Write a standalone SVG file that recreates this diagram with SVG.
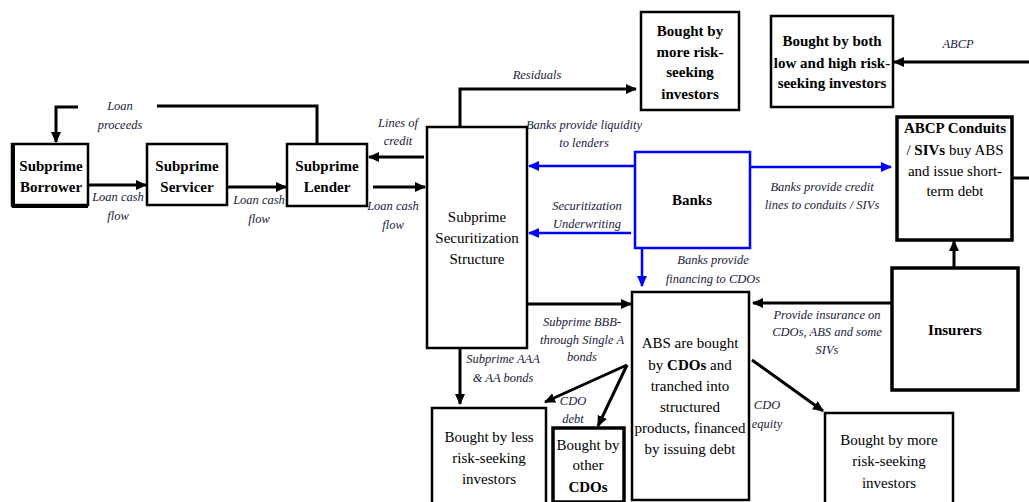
<svg xmlns="http://www.w3.org/2000/svg" width="1029" height="502" viewBox="0 0 1029 502">
<defs>
<marker id="ah" markerUnits="userSpaceOnUse" markerWidth="11" markerHeight="10" refX="10" refY="5" orient="auto">
<path d="M0,0 L11,5 L0,10 z" fill="#000"/>
</marker>
<marker id="ahb" markerUnits="userSpaceOnUse" markerWidth="11" markerHeight="10" refX="10" refY="5" orient="auto">
<path d="M0,0 L11,5 L0,10 z" fill="#0000ff"/>
</marker>
</defs>
<style>
.box{fill:#fff;stroke:#000;stroke-width:2.5}
.tbox{fill:#fff;stroke:#000;stroke-width:3.5}
.bbox{fill:#fff;stroke:#0000ff;stroke-width:2.5}
.t{font-family:"Liberation Serif","Times New Roman",serif;font-size:15px;fill:#000;text-anchor:middle}
.b{font-weight:bold}
.lbl{font-family:"Liberation Serif","Times New Roman",serif;font-size:12.5px;font-style:italic;fill:#1a1a3a;text-anchor:middle}
.c{fill:none;stroke:#000;stroke-width:3;marker-end:url(#ah)}
.cb{fill:none;stroke:#0000ff;stroke-width:2.5;marker-end:url(#ahb)}
.ln{fill:none;stroke:#000;stroke-width:3}
</style>
<rect width="1029" height="502" fill="#fff"/>

<g id="connectors">
<path class="c" d="M317,143 V106 H157 M78,107 H56 V142"/>
<path class="c" d="M89,185 H146"/>
<path class="c" d="M228,187 H286"/>
<path class="c" d="M424,157 H369"/>
<path class="c" d="M373,187 H425"/>
<path class="c" d="M460,127 V89 H636"/>
<path class="c" d="M528,304 H631"/>
<path class="c" d="M460,349 V404"/>
<path class="c" d="M627,365 L545,402"/>
<path class="c" d="M627,365 L598,426"/>
<path class="c" d="M752,360 L823,411"/>
<path class="c" d="M891,303 H753"/>
<path class="c" d="M954,267 V241"/>
<path class="c" d="M1029,62 H894"/>
<path class="ln" d="M1012,178 H1029"/>
<path class="cb" d="M635,166 H529"/>
<path class="cb" d="M631,233 H529"/>
<path class="cb" d="M642,248 V286"/>
<path class="cb" d="M750,167 H891"/>
<text class="lbl" x="120" y="110">Loan</text>
<text class="lbl" x="120" y="129">proceeds</text>
<text class="lbl" x="118" y="201">Loan cash</text>
<text class="lbl" x="118" y="220">flow</text>
<text class="lbl" x="259" y="204">Loan cash</text>
<text class="lbl" x="259" y="223">flow</text>
<text class="lbl" x="398" y="127">Lines of</text>
<text class="lbl" x="398" y="145">credit</text>
<text class="lbl" x="393" y="210">Loan cash</text>
<text class="lbl" x="393" y="229">flow</text>
<text class="lbl" x="537" y="79">Residuals</text>
<text class="lbl" x="584" y="129">Banks provide liquidity</text>
<text class="lbl" x="584" y="147">to lenders</text>
<text class="lbl" x="587" y="210">Securitization</text>
<text class="lbl" x="587" y="228">Underwriting</text>
<text class="lbl" x="713" y="264">Banks provide</text>
<text class="lbl" x="713" y="283">financing to CDOs</text>
<text class="lbl" x="822" y="191">Banks provide credit</text>
<text class="lbl" x="822" y="209">lines to conduits / SIVs</text>
<text class="lbl" x="958" y="48">ABCP</text>
<text class="lbl" x="582" y="326">Subprime BBB-</text>
<text class="lbl" x="582" y="344">through Single A</text>
<text class="lbl" x="582" y="361">bonds</text>
<text class="lbl" x="503" y="363">Subprime AAA</text>
<text class="lbl" x="503" y="382">&amp; AA bonds</text>
<text class="lbl" x="573" y="405">CDO</text>
<text class="lbl" x="573" y="423">debt</text>
<text class="lbl" x="767" y="409">CDO</text>
<text class="lbl" x="767" y="428">equity</text>
<text class="lbl" x="827" y="319">Provide  insurance on</text>
<text class="lbl" x="827" y="336">CDOs, ABS and some</text>
<text class="lbl" x="827" y="354">SIVs</text>
</g>

<g id="borrower">
<rect class="box" x="12" y="144" width="76" height="61"/>
<path d="M13,144 V207 M12,206 H88" stroke="#000" stroke-width="4" fill="none"/>
<text class="t b" x="51" y="171">Subprime</text>
<text class="t b" x="51" y="192">Borrower</text>
</g>

<g id="servicer">
<rect class="box" x="147" y="144" width="80" height="61"/>
<text class="t b" x="187" y="171">Subprime</text>
<text class="t b" x="187" y="192">Servicer</text>
</g>

<g id="lender">
<rect class="box" x="287" y="144" width="80" height="62"/>
<text class="t b" x="327" y="171">Subprime</text>
<text class="t b" x="327" y="192">Lender</text>
</g>

<g id="structure">
<rect class="box" x="427" y="127" width="100" height="221"/>
<text class="t" x="477" y="222" font-size="16">Subprime</text>
<text class="t" x="477" y="243" font-size="16">Securitization</text>
<text class="t" x="477" y="264" font-size="16">Structure</text>
</g>

<g id="more-risk-top">
<rect class="box" x="641" y="12" width="98" height="98"/>
<text class="t b" x="690" y="36">Bought by</text>
<text class="t b" x="690" y="57">more risk-</text>
<text class="t b" x="690" y="77">seeking</text>
<text class="t b" x="690" y="99">investors</text>
</g>

<g id="both-investors">
<rect class="box" x="771" y="16" width="122" height="91"/>
<text class="t b" x="832" y="46">Bought by both</text>
<text class="t b" x="832" y="68">low and high risk-</text>
<text class="t b" x="832" y="88">seeking investors</text>
</g>

<g id="conduits">
<rect class="tbox" x="897" y="117" width="115" height="123"/>
<text class="t" x="955" y="133"><tspan class="b">ABCP Conduits</tspan></text>
<text class="t" x="955" y="155">/ <tspan class="b">SIVs</tspan> buy ABS</text>
<text class="t" x="955" y="176">and issue short-</text>
<text class="t" x="955" y="196">term debt</text>
</g>

<g id="banks">
<rect class="bbox" x="635" y="152" width="115" height="96"/>
<text class="t b" x="692" y="205">Banks</text>
</g>

<g id="insurers">
<rect class="tbox" x="892" y="268" width="126" height="122"/>
<text class="t b" x="955" y="335">Insurers</text>
</g>

<g id="cdo">
<rect class="box" x="632" y="292" width="117" height="208"/>
<text class="t" x="690" y="348">ABS are bought</text>
<text class="t" x="690" y="370">by <tspan class="b">CDOs</tspan> and</text>
<text class="t" x="690" y="391">tranched into</text>
<text class="t" x="690" y="412">structured</text>
<text class="t" x="690" y="433">products, financed</text>
<text class="t" x="690" y="454">by issuing debt</text>
</g>

<g id="less-risk">
<rect class="box" x="432" y="408" width="114" height="100"/>
<text class="t" x="489" y="442">Bought by less</text>
<text class="t" x="489" y="463">risk-seeking</text>
<text class="t" x="489" y="484">investors</text>
</g>

<g id="other-cdos">
<rect class="tbox" x="553" y="428" width="71" height="74"/>
<text class="t" x="588" y="450">Bought by</text>
<text class="t" x="588" y="470">other</text>
<text class="t b" x="588" y="492">CDOs</text>
</g>

<g id="more-risk-bottom">
<rect class="box" x="825" y="413" width="128" height="95"/>
<text class="t" x="889" y="445">Bought by more</text>
<text class="t" x="889" y="466">risk-seeking</text>
<text class="t" x="889" y="488">investors</text>
</g>
</svg>
